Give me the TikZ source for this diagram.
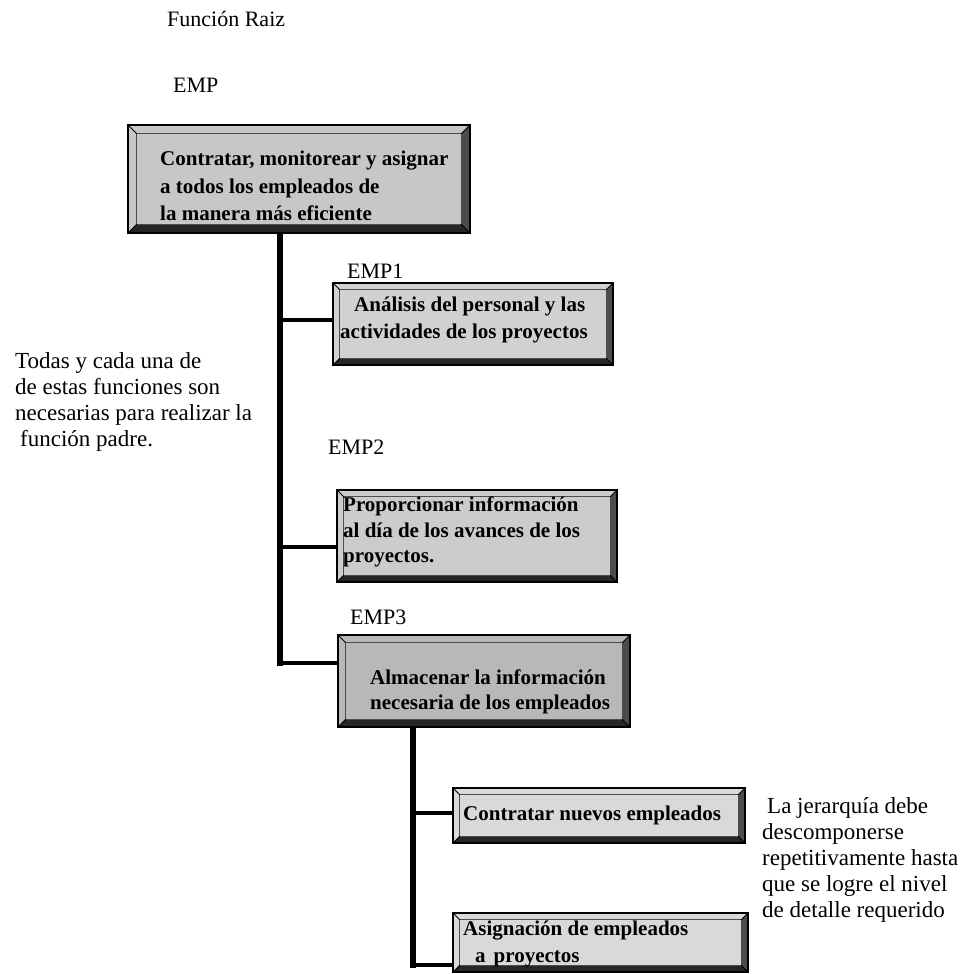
\documentclass[tikz,border=0pt]{standalone}
\usepackage{fontspec}
\setmainfont{Liberation Serif}
\usetikzlibrary{calc}
\newcommand\bevelbox[2]{%
  \fill[black!85] (#1.south west) -- (#1.south east) -- ($(#1.south east)+(-#2,-#2)$) -- ($(#1.south west)+(#2,-#2)$) -- cycle;
  \fill[black!70] (#1.north east) -- (#1.south east) -- ($(#1.south east)+(-#2,-#2)$) -- ($(#1.north east)+(-#2,#2)$) -- cycle;
  \draw[black!70, line width=0.8pt] ($(#1.north west)+(#2,#2)$) rectangle ($(#1.south east)+(-#2,-#2)$);
  \draw[black, line width=1pt] (#1.north west) -- ($(#1.north west)+(#2,#2)$)
    (#1.north east) -- ($(#1.north east)+(-#2,#2)$)
    (#1.south west) -- ($(#1.south west)+(#2,-#2)$)
    (#1.south east) -- ($(#1.south east)+(-#2,-#2)$);
  \draw[black, line width=2.4pt] (#1.north west) rectangle (#1.south east);
}
\begin{document}
\begin{tikzpicture}[x=1pt,y=-1pt,
  bbox/.style={fill=#1, inner sep=0pt},
  bbox/.default=black!20,
  btxt/.style={anchor=north west, inner sep=0pt, align=left, font=\bfseries\fontsize{21}{27}\selectfont},
  lbl/.style={anchor=west, inner sep=0pt, font=\fontsize{22}{26}\selectfont},
  note/.style={anchor=north west, inner sep=0pt, align=left, font=\fontsize{23}{26}\selectfont},
  trunk/.style={line width=5.5pt, line cap=rect},
  branch/.style={line width=4pt}]
\useasboundingbox (0,0) rectangle (971,974);
\fill[white] (0,0) rectangle (971,974);

% boxes
\node[bbox=black!22, minimum width=342pt, minimum height=108pt] (emp) at (299,179) {};
\node[bbox=black!18, minimum width=280pt, minimum height=82pt] (emp1) at (473,324) {};
\node[bbox=black!20, minimum width=280pt, minimum height=92pt] (emp2) at (477,536) {};
\node[bbox=black!28, minimum width=292pt, minimum height=92pt] (emp3) at (484,681) {};
\node[bbox=black!15, minimum width=292pt, minimum height=55pt] (box4) at (599,815.5) {};
\node[bbox=black!15, minimum width=295pt, minimum height=59pt] (box5) at (600.5,942.5) {};

% connectors
\coordinate (t1) at (280,320);
\coordinate (t2) at (280,547);
\coordinate (t3) at (280,663);
\coordinate (c1) at (413,813);
\coordinate (c2) at (413,965);
\draw[trunk] (emp.south -| t1) -- (t3);
\draw[branch] (t1) -- (t1 -| emp1.west);
\draw[branch] (t2) -- (t2 -| emp2.west);
\draw[branch] (t3) -- (t3 -| emp3.west);
\draw[trunk] (emp3.south -| c1) -- (c2);
\draw[branch] (c1) -- (c1 -| box4.west);
\draw[branch] (c2) -- (c2 -| box5.west);

\bevelbox{emp}{9}
\bevelbox{emp1}{7}
\bevelbox{emp2}{7}
\bevelbox{emp3}{8}
\bevelbox{box4}{7}
\bevelbox{box5}{7}

% box texts
\node[btxt, font=\bfseries\fontsize{21}{27.5}\selectfont] (empt) at (160,151) {Contratar, monitorear y asignar\\a todos los empleados de\\la manera más eficiente};
\node[btxt] (emp1t) at (340,297) {\hspace*{14pt}Análisis del personal y las\\actividades de los proyectos};
\node[btxt, font=\bfseries\fontsize{21}{25.5}\selectfont] (emp2t) at (343,497) {Proporcionar información\\al día de los avances de los\\proyectos.};
\node[btxt, font=\bfseries\fontsize{21}{25}\selectfont] (emp3t) at (370,670) {Almacenar la información\\necesaria de los empleados};
\node[btxt] (box4t) at (463,806) {Contratar nuevos empleados};
\node[btxt] (box5t) at (463,921) {Asignación de empleados\\\hspace*{12pt}a\hspace{8pt}proyectos};

% labels
\node[lbl] (fr) at (167,19) {Función Raiz};
\node[lbl] (l0) at (173,85) {EMP};
\node[lbl] (l1) at (347,271) {EMP1};
\node[lbl] (l2) at (328,447) {EMP2};
\node[lbl] (l3) at (350,617) {EMP3};

% notes
\node[note] (n1) at (15,352) {Todas y cada una de\\de estas funciones son\\necesarias para realizar la\\\hspace*{5pt}función padre.};
\node[note] (n2) at (762,797) {\hspace*{5pt}La jerarquía debe\\descomponerse\\repetitivamente hasta\\que se logre el nivel\\de detalle requerido};
\end{tikzpicture}
\end{document}
